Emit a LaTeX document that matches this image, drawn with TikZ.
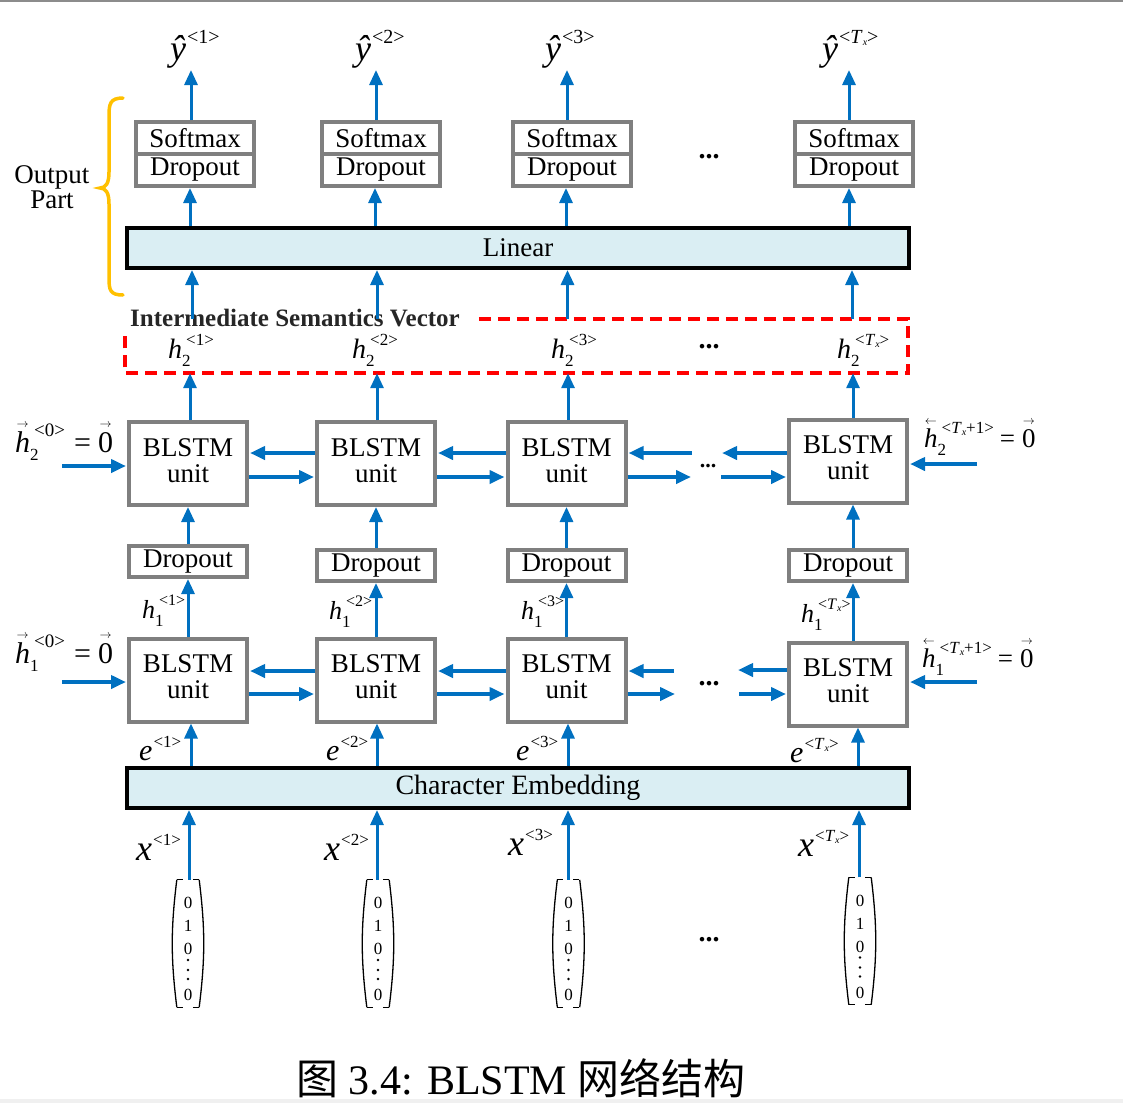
\documentclass[tikz,border=0pt]{standalone}
\usepackage{amsmath}
\usepackage{fontspec}
\setmainfont{Liberation Serif}
\newfontfamily\cjk{Noto Sans CJK SC}
\usetikzlibrary{arrows.meta,calc}

\definecolor{arrblue}{HTML}{0070C0}
\definecolor{boxgray}{HTML}{7F7F7F}
\definecolor{lblue}{HTML}{DAEEF3}
\definecolor{bracegold}{HTML}{FFC000}
\definecolor{dashred}{HTML}{FF0000}

\newcommand{\fs}[1]{\fontsize{#1}{#1}\selectfont}
\newcommand{\subf}{\fontsize{17}{17}\selectfont}
\newcommand{\Tx}{\textit{T}\raisebox{-2.5pt}{\fontsize{10}{10}\selectfont\textit{x}}}
% raise, arrow, base
\newcommand{\ovarrow}[3]{\ooalign{#3\cr\hidewidth\raisebox{#1}{\fontsize{13}{13}\selectfont$#2$}\hidewidth\cr}}
% raise, size, base, sup
\newcommand{\bsup}[4]{#3\kern1pt\raisebox{#1}{\fontsize{#2}{#2}\selectfont #4}}
% raise, size, base, sub, sup
\newcommand{\bsubsup}[5]{#3\rlap{\raisebox{-8pt}{\subf #4}}\kern4pt\raisebox{#1}{\fontsize{#2}{#2}\selectfont #5}}
\newcommand{\vup}[3][0]{\draw[arr] ($(#2)+(#1,0)$) -- ($(#3)+(#1,0)$);}
\newcommand{\unittext}{BLSTM\\unit\rule[-6pt]{0pt}{0pt}}

\begin{document}
\begin{tikzpicture}[x=1pt,y=-1pt,
  arr/.style={draw=arrblue, line width=3pt, -{Triangle[length=15pt,width=13pt]}},
  harr/.style={draw=arrblue, line width=4pt, -{Triangle[length=15pt,width=13pt]}, shorten >=1pt},
  gbox/.style={draw=boxgray, line width=4pt, fill=white, inner sep=0pt, minimum width=118pt, align=center, font=\fs{27}},
  unitbox/.style={gbox, minimum height=83pt, font={\fontsize{27}{26}\selectfont}},
  dropbox/.style={gbox, minimum height=31pt},
  topbox/.style={gbox, minimum height=32pt},
  layerbox/.style={draw=black, line width=4pt, fill=lblue, minimum width=782pt, minimum height=40pt, inner sep=0pt, font=\fs{27}},
  vecbox/.style={minimum width=22pt, minimum height=127pt, inner sep=0pt, align=center, font={\fontsize{17}{23}\selectfont}},
  paren/.style={line width=1.3pt},
  lab/.style={anchor=base west, inner sep=0pt},
  dots/.style={font=\fs{28}\bfseries, inner sep=0pt},
]
\useasboundingbox (0,0) rectangle (1123,1103);
\fill[black!45] (0,0) rectangle (1123,2);
\fill[black!6] (0,1099) rectangle (1123,1103);

% ---------- output part ----------
\node[topbox] (sm1) at (195,138) {Softmax};
\node[topbox] (do1) at (195,170) {Dropout};
\node[topbox] (sm2) at (381,138) {Softmax};
\node[topbox] (do2) at (381,170) {Dropout};
\node[topbox] (sm3) at (572,138) {Softmax};
\node[topbox] (do3) at (572,170) {Dropout};
\node[topbox] (sm4) at (854,138) {Softmax};
\node[topbox] (do4) at (854,170) {Dropout};
\node[dots] (dt) at (709,157) {...};

\node[layerbox] (lin) at (518,248) {Linear};

\draw[bracegold, line width=3.5pt, line cap=round]
  (123,98) .. controls (110,98) and (109,104) .. (109,116) -- (109,172)
  .. controls (109,183) and (106,188) .. (100,188)
  .. controls (106,188) and (109,193) .. (109,204) -- (109,278)
  .. controls (109,290) and (110,295) .. (123,295);
\node[align=center, font={\fontsize{27}{25}\selectfont}, inner sep=0pt] (op) at (52,187) {Output\\Part};

% top outputs
\coordinate (t1) at (191,70);
\coordinate (t2) at (376,70);
\coordinate (t3) at (567,70);
\coordinate (t4) at (849,70);
\node[lab, font=\fs{36}] (y1) at (170,60) {\bsup{17pt}{20}{\textit{ŷ}}{<1>}};
\node[lab, font=\fs{36}] (y2) at (355,60) {\bsup{17pt}{20}{\textit{ŷ}}{<2>}};
\node[lab, font=\fs{36}] (y3) at (545,60) {\bsup{17pt}{20}{\textit{ŷ}}{<3>}};
\node[lab, font=\fs{36}] (y4) at (822,60) {\bsup{17pt}{20}{\textit{ŷ}}{<\Tx>}};

% ---------- intermediate semantics vector ----------
\node[inner sep=0pt, minimum width=783pt, minimum height=54pt] (isv) at (516.5,346) {};
\draw[dashred, line width=4pt, dash pattern=on 12pt off 7pt]
  ($(isv.north west)+(354,0)$) -- (isv.north east) -- (isv.south east) -- (isv.south west) -- ($(isv.north west)+(0,15)$);
\node[lab, font=\fs{25}\bfseries, text=black!85] (isvlab) at (130,326) {Intermediate Semantics Vector};
\node[lab, font=\fs{28}] (h21) at (168,358) {\bsubsup{13pt}{17}{\textit{h}}{2}{<1>}};
\node[lab, font=\fs{28}] (h22) at (352,358) {\bsubsup{13pt}{17}{\textit{h}}{2}{<2>}};
\node[lab, font=\fs{28}] (h23) at (551,358) {\bsubsup{13pt}{17}{\textit{h}}{2}{<3>}};
\node[lab, font=\fs{28}] (h24) at (837,358) {\bsubsup{13pt}{17}{\textit{h}}{2}{<\Tx>}};
\node[dots] (di) at (709,347) {...};

% ---------- BLSTM layer 2 ----------
\node[unitbox] (b21) at (188,463.5) {\unittext};
\node[unitbox] (b22) at (376,463.5) {\unittext};
\node[unitbox] (b23) at (566.5,463.5) {\unittext};
\node[unitbox] (b24) at (848,461) {\unittext};
\node[dots, font=\fs{22}\bfseries] (dr2) at (708,466) {...};

% ---------- dropouts ----------
\node[dropbox] (d1) at (188,561.5) {Dropout};
\node[dropbox] (d2) at (376,565.5) {Dropout};
\node[dropbox] (d3) at (566.5,565.5) {Dropout};
\node[dropbox] (d4) at (848,565.5) {Dropout};

% ---------- BLSTM layer 1 ----------
\node[unitbox] (b11) at (188,680) {\unittext};
\node[unitbox] (b12) at (376,680) {\unittext};
\node[unitbox] (b13) at (566.5,680) {\unittext};
\node[unitbox] (b14) at (848,684) {\unittext};
\node[dots] (dr1) at (709,684) {...};

\node[lab, font=\fs{26}] (h11) at (142,618) {\bsubsup{13pt}{16}{\textit{h}}{1}{<1>}};
\node[lab, font=\fs{26}] (h12) at (329,619) {\bsubsup{13pt}{16}{\textit{h}}{1}{<2>}};
\node[lab, font=\fs{26}] (h13) at (521,619) {\bsubsup{13pt}{16}{\textit{h}}{1}{<3>}};
\node[lab, font=\fs{26}] (h14) at (801,622) {\bsubsup{13pt}{16}{\textit{h}}{1}{<\Tx>}};

% initial states
\node[lab, font=\fs{30}] (h20) at (15,452) {\bsubsup{16pt}{19}{\ovarrow{25pt}{\rightarrow}{\textit{h}}}{2}{<0>}\kern9pt=\kern7pt\ovarrow{25pt}{\rightarrow}{0}};
\node[lab, font=\fs{30}] (h10) at (15,663) {\bsubsup{16pt}{19}{\ovarrow{25pt}{\rightarrow}{\textit{h}}}{1}{<0>}\kern9pt=\kern7pt\ovarrow{25pt}{\rightarrow}{0}};
\node[lab, font=\fs{27}] (h2r) at (924,447) {\bsubsup{14pt}{17}{\ovarrow{23pt}{\leftarrow}{\textit{h}}}{2}{<\Tx+1>}\kern6pt=\kern7pt\ovarrow{23pt}{\rightarrow}{0}};
\node[lab, font=\fs{27}] (h1r) at (922,667) {\bsubsup{14pt}{17}{\ovarrow{23pt}{\leftarrow}{\textit{h}}}{1}{<\Tx+1>}\kern6pt=\kern7pt\ovarrow{23pt}{\rightarrow}{0}};

% ---------- embedding ----------
\node[layerbox, font=\fs{28}] (emb) at (518,788) {Character Embedding};
\node[lab, font=\fs{30}] (e1) at (139,760) {\bsup{13pt}{17}{\textit{e}}{<1>}};
\node[lab, font=\fs{30}] (e2) at (326,760) {\bsup{13pt}{17}{\textit{e}}{<2>}};
\node[lab, font=\fs{30}] (e3) at (516,760) {\bsup{13pt}{17}{\textit{e}}{<3>}};
\node[lab, font=\fs{30}] (e4) at (790,762) {\bsup{13pt}{17}{\textit{e}}{<\Tx>}};

% ---------- one-hot inputs ----------
\node[vecbox] (v1) at (188,943.5) {\rule{0pt}{23pt}0\\1\\0\\[23pt]0};
\node[vecbox] (v2) at (378,943.5) {\rule{0pt}{23pt}0\\1\\0\\[23pt]0};
\node[vecbox] (v3) at (568.5,943.5) {\rule{0pt}{23pt}0\\1\\0\\[23pt]0};
\node[vecbox] (v4) at (860,941) {\rule{0pt}{23pt}0\\1\\0\\[23pt]0};
\foreach \v in {v1,v2,v3,v4}{
  \draw[paren] (\v.north west) to[bend right=7] (\v.south west);
  \draw[paren] (\v.north east) to[bend left=7] (\v.south east);
  \draw[paren, dash pattern=on 6pt off 10pt] (\v.north west) -- (\v.north east);
  \draw[paren, dash pattern=on 6pt off 10pt] (\v.south west) -- (\v.south east);
  \fill ($(\v.center)+(0,16.5)$) circle (1.3pt);
  \fill ($(\v.center)+(0,26.5)$) circle (1.3pt);
  \fill ($(\v.center)+(0,35.5)$) circle (1.3pt);
}
\node[dots] (db) at (709,940) {...};
\node[lab, font=\fs{36}] (x1) at (136,860) {\bsup{15pt}{17}{\textit{x}}{<1>}};
\node[lab, font=\fs{36}] (x2) at (324,860) {\bsup{15pt}{17}{\textit{x}}{<2>}};
\node[lab, font=\fs{36}] (x3) at (508,855) {\bsup{15pt}{17}{\textit{x}}{<3>}};
\node[lab, font=\fs{36}] (x4) at (798,856) {\bsup{15pt}{17}{\textit{x}}{<\Tx>}};

% ---------- vertical arrows ----------
% column 1
\vup[1]{v1.north}{v1.north |- emb.south}
\vup[3]{b11.south |- emb.north}{b11.south}
\vup{b11.north}{d1.south}
\vup{d1.north}{b21.south}
\vup[2]{b21.north}{b21.north |- isv.south}
\vup[4]{b21.north |- isv.north}{b21.north |- lin.south}
\vup[-5]{do1.south |- lin.north}{do1.south}
\draw[arr] ($(sm1.north)+(-4,0)$) -- (t1);
% column 2
\vup[-1]{v2.north}{v2.north |- emb.south}
\vup[1]{b12.south |- emb.north}{b12.south}
\vup{b12.north}{d2.south}
\vup{d2.north}{b22.south}
\vup[1]{b22.north}{b22.north |- isv.south}
\vup[1]{b22.north |- isv.north}{b22.north |- lin.south}
\vup[-6]{do2.south |- lin.north}{do2.south}
\draw[arr] ($(sm2.north)+(-5,0)$) -- (t2);
% column 3
\vup[-0.5]{v3.north}{v3.north |- emb.south}
\vup[1.5]{b13.south |- emb.north}{b13.south}
\vup{b13.north}{d3.south}
\vup{d3.north}{b23.south}
\vup[1.5]{b23.north}{b23.north |- isv.south}
\vup[1]{b23.north |- isv.north}{b23.north |- lin.south}
\vup[-6]{do3.south |- lin.north}{do3.south}
\draw[arr] ($(sm3.north)+(-5,0)$) -- (t3);
% column 4
\vup[-1]{v4.north}{v4.north |- emb.south}
\vup[10]{b14.south |- emb.north}{b14.south}
\vup[5]{b14.north}{b14.north |- d4.south}
\vup[5]{d4.north}{d4.north |- b24.south}
\vup[5]{b24.north}{b24.north |- isv.south}
\vup[4]{b24.north |- isv.north}{b24.north |- lin.south}
\vup[-5]{do4.south |- lin.north}{do4.south}
\draw[arr] ($(sm4.north)+(-5,0)$) -- (t4);

% ---------- horizontal arrows ----------
% layer 2
\draw[harr] ([yshift=10.5pt]b22.west) -- ([yshift=10.5pt]b21.east);
\draw[harr] ([yshift=-13.5pt]b21.east) -- ([yshift=-13.5pt]b22.west);
\draw[harr] ([yshift=10.5pt]b23.west) -- ([yshift=10.5pt]b22.east);
\draw[harr] ([yshift=-13.5pt]b22.east) -- ([yshift=-13.5pt]b23.west);
\coordinate (r2a) at (692,453);
\coordinate (r2b) at (692,477);
\coordinate (r2c) at (721,453);
\coordinate (r2d) at (721,477);
\draw[harr] (r2a) -- ([yshift=10.5pt]b23.east);
\draw[harr] ([yshift=-13.5pt]b23.east) -- (r2b);
\draw[harr] ([yshift=8pt]b24.west) -- (r2c);
\draw[harr] (r2d) -- ([yshift=-16pt]b24.west);
% layer 1
\draw[harr] ([yshift=9pt]b12.west) -- ([yshift=9pt]b11.east);
\draw[harr] ([yshift=-14pt]b11.east) -- ([yshift=-14pt]b12.west);
\draw[harr] ([yshift=9pt]b13.west) -- ([yshift=9pt]b12.east);
\draw[harr] ([yshift=-14pt]b12.east) -- ([yshift=-14pt]b13.west);
\coordinate (r1a) at (674,671);
\coordinate (r1b) at (676,694);
\coordinate (r1c) at (737,670);
\coordinate (r1d) at (739,694);
\draw[harr] (r1a) -- ([yshift=9pt]b13.east);
\draw[harr] ([yshift=-14pt]b13.east) -- (r1b);
\draw[harr] ([yshift=14pt]b14.west) -- (r1c);
\draw[harr] (r1d) -- ([yshift=-10pt]b14.west);
% initial states
\coordinate (in2) at (62,466);
\coordinate (in1) at (62,682);
\coordinate (rin2) at (977,464);
\coordinate (rin1) at (977,682);
\draw[harr] (in2) -- ([yshift=-2.5pt]b21.west);
\draw[harr] (in1) -- ([yshift=-2pt]b11.west);
\draw[harr] (rin2) -- ([yshift=-3pt]b24.east);
\draw[harr] (rin1) -- ([yshift=2pt]b14.east);

% ---------- caption ----------
\node[anchor=base, inner sep=0pt, font=\fs{42}] (cap) at (521,1094) {{\cjk 图} 3.4: BLSTM {\cjk 网络结构}};
\end{tikzpicture}
\end{document}
